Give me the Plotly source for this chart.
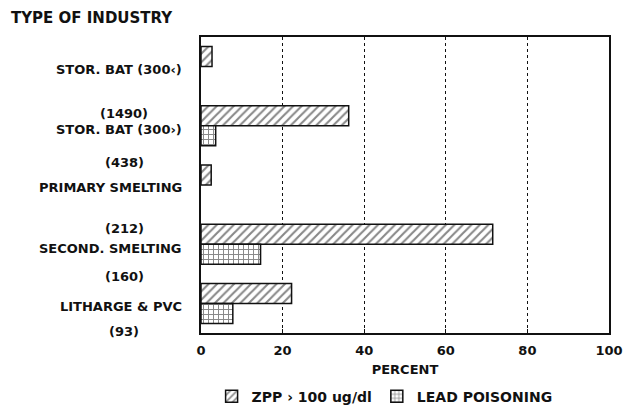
import plotly.graph_objects as go

categories = ["STOR. BAT (300‹)", "STOR. BAT (300›)", "PRIMARY SMELTING",
              "SECOND. SMELTING", "LITHARGE & PVC"]
counts = ["(1490)", "(438)", "(212)", "(160)", "(93)"]
zpp_pct = [2.7, 36.2, 2.5, 71.5, 22.2]
lead_pct = [None, 3.6, None, 14.6, 7.8]
x_ticks = [0, 20, 40, 60, 80, 100]

FONT = "DejaVu Sans"
BLACK = "#111111"


def bfont(size=13):
    return dict(family=FONT, size=size, color=BLACK, weight="bold")


fig = go.Figure()
fig.add_trace(go.Bar(
    y=categories, x=zpp_pct, orientation="h", name="ZPP › 100 ug/dl",
    marker=dict(color="white", line=dict(color=BLACK, width=1.5),
                pattern=dict(shape="/", fgcolor=BLACK, bgcolor="white",
                             size=6, solidity=0.35)),
))
fig.add_trace(go.Bar(
    y=categories, x=lead_pct, orientation="h", name="LEAD POISONING",
    marker=dict(color="white", line=dict(color=BLACK, width=1.5),
                pattern=dict(shape="+", fgcolor=BLACK, bgcolor="white",
                             size=5, solidity=0.35)),
))

# category labels (name) and sample sizes
name_offsets = [-3, -4, -2, -4, -3]
for cat, off in zip(categories, name_offsets):
    fig.add_annotation(x=0, xref="paper", xanchor="right", xshift=-17,
                       y=cat, yref="y", yshift=off, text=cat, showarrow=False,
                       font=bfont(13))
count_pos = [(categories[1], 12), (categories[2], 23), (categories[3], 16),
             (categories[3], -32), (categories[4], -28)]
for txt, (cat, off) in zip(counts, count_pos):
    fig.add_annotation(x=0, xref="paper", xanchor="center", xshift=-77,
                       y=cat, yref="y", yshift=off, text=txt, showarrow=False,
                       font=bfont(13))

fig.add_annotation(x=-0.47, xref="paper", xanchor="left", y=1.065, yref="paper",
                   yanchor="middle", text="TYPE OF INDUSTRY", showarrow=False,
                   font=bfont(15))

fig.update_layout(
    width=627, height=413,
    margin=dict(l=201, r=18, t=37, b=80, autoexpand=False),
    paper_bgcolor="white", plot_bgcolor="white",
    barmode="group", bargap=0.324, bargroupgap=0,
    font=bfont(13),
    showlegend=True,
    legend=dict(orientation="h", x=0.45, xanchor="center", y=-0.215,
                yanchor="middle", font=bfont(14),
                itemwidth=30, traceorder="normal"),
    xaxis=dict(range=[0, 100], tickvals=x_ticks, ticktext=[str(v) for v in x_ticks],
               showgrid=True, gridcolor=BLACK, griddash="dot", gridwidth=1,
               showline=True, linecolor=BLACK, linewidth=1.5, mirror=True,
               ticks="inside", ticklen=4, tickcolor=BLACK, zeroline=False,
               automargin=False, ticklabelstandoff=5,
               title=dict(text="PERCENT", standoff=8, font=bfont(13)),
               tickfont=bfont(13)),
    yaxis=dict(categoryorder="array", categoryarray=categories,
               autorange="reversed", showticklabels=False, automargin=False,
               showline=True, linecolor=BLACK, linewidth=1.5, mirror=True,
               showgrid=False, ticks=""),
)

fig.write_html("out.html", config={"displayModeBar": False},
               post_script="document.body.style.margin='0';"
                           "document.body.style.overflow='hidden';")
